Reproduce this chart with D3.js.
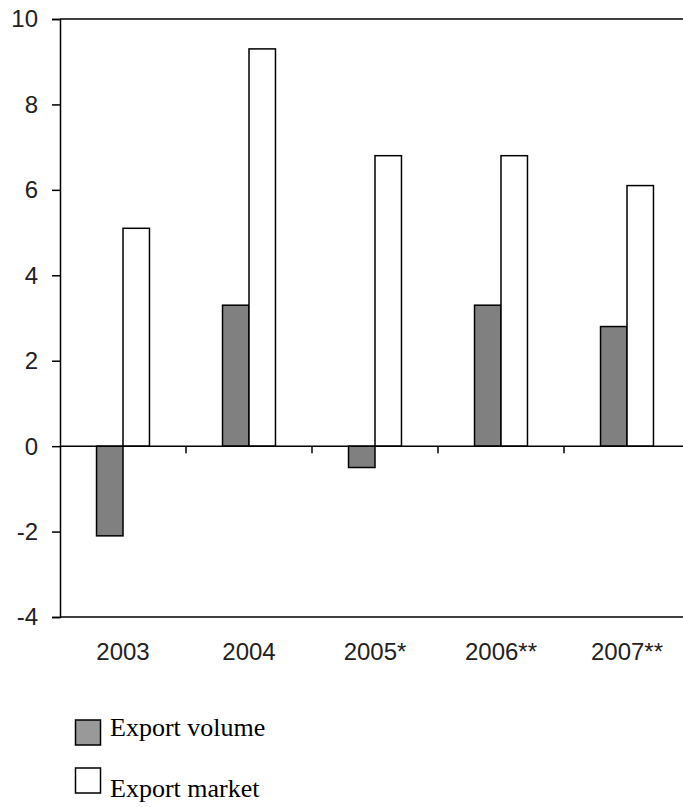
<!DOCTYPE html>
<html>
<head>
<meta charset="utf-8">
<script src="https://cdn.jsdelivr.net/npm/d3@7"></script>
<style>
  html, body { margin: 0; padding: 0; background: #fff; }
  svg { display: block; }
</style>
</head>
<body>
<svg id="chart" width="683" height="807"></svg>
<script>
const categories = ["2003", "2004", "2005*", "2006**", "2007**"];
const seriesNames = ["Export volume", "Export market"];
const exportVolume = [-2.1, 3.3, -0.5, 3.3, 2.8];
const exportMarket = [5.1, 9.3, 6.8, 6.8, 6.1];
const yTicks = [-4, -2, 0, 2, 4, 6, 8, 10];

const seriesValues = [exportVolume, exportMarket];
const seriesFill = ["#808080", "#ffffff"];
const legendFill = ["#999999", "#ffffff"];

const svg = d3.select("#chart");
const plotLeft = 60, plotRight = 690, plotTop = 19, plotBottom = 617;

const y = d3.scaleLinear().domain([-4, 10]).range([plotBottom, plotTop]);
const x0 = d3.scaleBand().domain(categories).range([plotLeft, plotRight]).paddingInner(0).paddingOuter(0);
const x1 = d3.scaleBand().domain(seriesNames).range([0, x0.bandwidth()]).paddingInner(0).paddingOuter(1.38);

// frame lines top & bottom
svg.append("line").attr("x1", plotLeft).attr("x2", plotRight).attr("y1", y(10)).attr("y2", y(10))
  .attr("stroke", "#000").attr("stroke-width", 1.5);
svg.append("line").attr("x1", plotLeft).attr("x2", plotRight).attr("y1", y(-4)).attr("y2", y(-4))
  .attr("stroke", "#000").attr("stroke-width", 1.5);

// bars
const groups = svg.append("g").selectAll("g")
  .data(categories)
  .join("g")
  .attr("transform", d => `translate(${x0(d)},0)`);

groups.selectAll("rect")
  .data((d, i) => seriesNames.map((s, j) => ({ s, j, v: seriesValues[j][i] })))
  .join("rect")
  .attr("x", d => x1(d.s))
  .attr("width", x1.bandwidth())
  .attr("y", d => y(Math.max(0, d.v)))
  .attr("height", d => Math.abs(y(d.v) - y(0)))
  .attr("fill", d => seriesFill[d.j])
  .attr("stroke", "#000")
  .attr("stroke-width", 1.5);

// zero line with category ticks
svg.append("line").attr("x1", plotLeft).attr("x2", plotRight).attr("y1", y(0)).attr("y2", y(0))
  .attr("stroke", "#000").attr("stroke-width", 1.5);
svg.append("g").selectAll("line")
  .data(categories.slice(1))
  .join("line")
  .attr("x1", d => x0(d)).attr("x2", d => x0(d))
  .attr("y1", y(0)).attr("y2", y(0) + 7)
  .attr("stroke", "#000").attr("stroke-width", 1.5);

// y axis
const yAxis = d3.axisLeft(y).tickValues(yTicks).tickSize(8).tickPadding(14).tickFormat(d => String(d));
const gy = svg.append("g").attr("transform", `translate(${plotLeft},0)`).call(yAxis);
gy.select(".domain").attr("stroke", "#000").attr("stroke-width", 1.5);
gy.selectAll(".tick line").attr("stroke", "#000").attr("stroke-width", 1.5);
gy.selectAll(".tick text")
  .attr("font-family", "'Liberation Sans', Arial, sans-serif")
  .attr("font-size", 24).attr("fill", "#222").attr("dy", "0.33em");

// x labels
svg.append("g").selectAll("text")
  .data(categories)
  .join("text")
  .attr("x", d => x0(d) + x0.bandwidth() / 2)
  .attr("y", 660)
  .attr("text-anchor", "middle")
  .attr("font-family", "'Liberation Sans', Arial, sans-serif")
  .attr("font-size", 24)
  .attr("fill", "#222")
  .text(d => d);

// legend
const legendBoxY = [720, 768];
const legendTextY = [736, 797];
const lg = svg.append("g");
seriesNames.forEach((s, i) => {
  lg.append("rect").attr("x", 75.5).attr("y", legendBoxY[i]).attr("width", 25).attr("height", 25)
    .attr("fill", legendFill[i]).attr("stroke", "#000").attr("stroke-width", 1.5);
  lg.append("text").attr("x", 110).attr("y", legendTextY[i])
    .attr("font-family", "'Liberation Serif', 'Times New Roman', serif")
    .attr("font-size", 26).attr("fill", "#000")
    .text(s);
});
</script>
</body>
</html>
